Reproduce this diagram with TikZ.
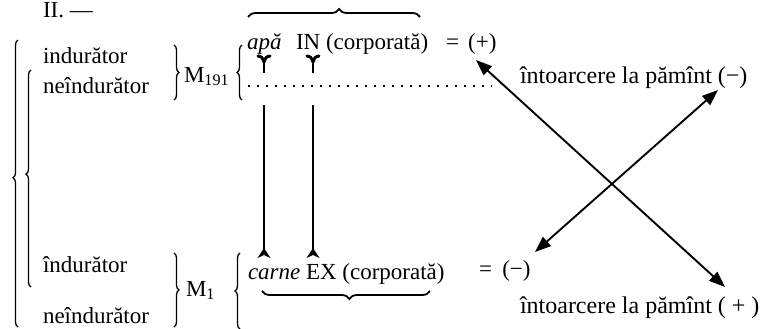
\documentclass[tikz,border=0pt]{standalone}
\usepackage{fontspec}
\setmainfont{Liberation Serif}
\usetikzlibrary{arrows.meta,decorations.pathreplacing}
\begin{document}
\begin{tikzpicture}[x=1pt,y=-1pt,
  every node/.style={font=\fontsize{23}{27}\selectfont, inner sep=0pt, outer sep=0pt, anchor=base west},
  righttext/.style={font=\fontsize{24}{28}\selectfont},
  bracestyle/.style={decorate, decoration={brace, amplitude=#1}, line width=1.3pt},
  crossarrow/.style={{Triangle[length=16pt,width=12pt]}-{Triangle[length=16pt,width=12pt]}, line width=1.9pt},
  vline/.style={line width=1.6pt},
  chevron/.style={fill=black, line width=0.6pt, line join=round},
  forkarms/.style={line width=3pt, line cap=round, line join=round},
  forkstem/.style={line width=2.6pt},
  dotline/.style={line width=1.6pt, dash pattern=on 1.6pt off 7.4pt},
]
\useasboundingbox (0,0) rectangle (766,329);
% texts
\node (roman) at (43,18) {II. ---};
\node (ind1) at (43,64) {indurător};
\node (nei1) at (43,93) {neîndurător};
\node (m191) at (184,82) {M\textsubscript{191}};
\node (apa) at (247,50) {\itshape apă};
\node (inc) at (296,50) {IN (corporată)};
\node (eqp) at (446,50) {=\hspace{0.4em}(+)};
\node (ind2) at (43,272) {îndurător};
\node (nei2) at (43,323) {neîndurător};
\node (m1) at (186,296) {M\textsubscript{1}};
\node (carne) at (248,279) {\itshape carne};
\node (exc) at (306,279) {EX (corporată)};
\node (eqm) at (479,276) {=\hspace{0.45em}(−)};
\node[righttext] (ret1) at (520,84) {întoarcere la pămînt (−)};
\node[righttext] (ret2) at (520,313) {întoarcere la pămînt ( + )};
% braces
\draw[bracestyle=5pt, decoration={aspect=0.52}] (18,327) -- (18,40);
\draw[bracestyle=5pt, decoration={aspect=0.52}] (31,287) -- (31,70);
\draw[bracestyle=5pt] (174,45) -- (174,100);
\draw[bracestyle=5pt] (242,100) -- (242,45);
\draw[bracestyle=5pt] (174,253) -- (174,327);
\draw[bracestyle=5pt] (240,329) -- (240,253);
\draw[bracestyle=8pt, line width=1.8pt, decoration={aspect=0.53}] (248,17) -- (420,17);
\draw[bracestyle=8pt, line width=1.8pt, decoration={aspect=0.48}] (430,291) -- (262,291);
% fork markers
\coordinate (f1) at (264,62);
\coordinate (f2) at (313,62);
\foreach \f in {f1,f2}{
  \draw[forkarms] ([xshift=-6pt,yshift=6pt]\f) .. controls ([xshift=-2pt,yshift=5pt]\f) .. (\f)
                  .. controls ([xshift=2pt,yshift=5pt]\f) .. ([xshift=6pt,yshift=6pt]\f);
  \draw[forkstem] (\f) -- ([yshift=-11pt]\f);
}
% vertical connectors with chevrons
\coordinate (v1t) at (264,105);
\coordinate (v1b) at (264,250);
\coordinate (v2t) at (313,105);
\coordinate (v2b) at (313,250);
\draw[vline] (v1t) -- (v1b);
\draw[vline] (v2t) -- (v2b);
\foreach \v in {v1b,v2b}{
  \fill[chevron] ([yshift=2pt]\v) -- ([xshift=6.5pt,yshift=-8pt]\v) -- ([yshift=-5pt]\v) -- ([xshift=-6.5pt,yshift=-8pt]\v) -- cycle;
}
% dotted line
\coordinate (d1) at (248,86);
\coordinate (d2) at (492,86);
\draw[dotline] (d1) -- (d2);
% crossing arrows
\coordinate (aA) at (476,60);
\coordinate (aB) at (725,287);
\coordinate (bA) at (535,252);
\coordinate (bB) at (718,90);
\draw[crossarrow] (aA) -- (aB);
\draw[crossarrow] (bA) -- (bB);
\end{tikzpicture}
\end{document}
